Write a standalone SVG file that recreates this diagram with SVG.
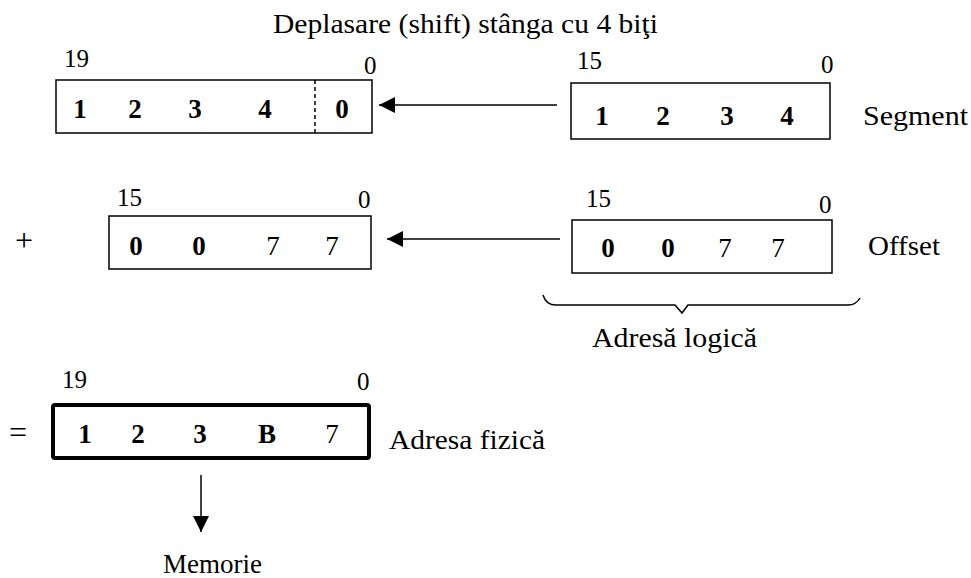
<svg xmlns="http://www.w3.org/2000/svg" width="971" height="578" viewBox="0 0 971 578">
  <style>
    text { font-family: "Liberation Serif", "Times New Roman", serif; fill: #000; }
    .lbl { font-size: 25px; }
    .word { font-size: 28px; }
    .sign { font-size: 32px; text-anchor: middle; }
    .dig { font-size: 27px; font-weight: bold; text-anchor: middle; }
    .thin { font-weight: normal; }
    .box { fill: #fff; stroke: #000; stroke-width: 1.5; }
    .heavy { fill: #fff; stroke: #000; stroke-width: 4; }
    .line { fill: none; stroke: #000; stroke-width: 1.5; }
  </style>
  <defs>
    <marker id="head" viewBox="0 0 16 16" refX="16" refY="8" markerWidth="16" markerHeight="16" markerUnits="userSpaceOnUse" orient="auto">
      <path d="M0,0 L16,8 L0,16 Z" fill="#000"/>
    </marker>
  </defs>

  <text class="word" x="273" y="33" textLength="385" lengthAdjust="spacingAndGlyphs">Deplasare (shift) stânga cu 4 biţi</text>

  <!-- shifted segment, 20 bits -->
  <g id="shifted">
    <rect class="box" x="56" y="80" width="316" height="53"/>
    <line x1="315" y1="80" x2="315" y2="133" stroke="#000" stroke-width="1.5" stroke-dasharray="4 3"/>
    <text class="lbl" x="64" y="67">19</text>
    <text class="lbl" x="364" y="74">0</text>
    <text class="dig" x="80" y="118">1</text>
    <text class="dig" x="135" y="118">2</text>
    <text class="dig" x="195" y="118">3</text>
    <text class="dig" x="265" y="118">4</text>
    <text class="dig" x="342" y="118">0</text>
  </g>

  <!-- segment register -->
  <g id="segment">
    <rect class="box" x="571" y="83" width="259" height="56"/>
    <text class="lbl" x="577" y="69">15</text>
    <text class="lbl" x="821" y="73">0</text>
    <text class="dig" x="602" y="125">1</text>
    <text class="dig" x="663" y="125">2</text>
    <text class="dig" x="727" y="125">3</text>
    <text class="dig" x="787" y="125">4</text>
    <text class="word" x="863" y="125" textLength="105" lengthAdjust="spacingAndGlyphs">Segment</text>
  </g>

  <!-- offset operand -->
  <g id="offset-copy">
    <text class="sign" x="24" y="251">+</text>
    <rect class="box" x="109" y="216" width="262" height="53"/>
    <text class="lbl" x="117" y="206">15</text>
    <text class="lbl" x="358" y="208">0</text>
    <text class="dig" x="136" y="255">0</text>
    <text class="dig" x="199" y="255">0</text>
    <text class="dig thin" x="273" y="255">7</text>
    <text class="dig thin" x="332" y="255">7</text>
  </g>

  <!-- offset register -->
  <g id="offset">
    <rect class="box" x="572" y="220" width="260" height="53"/>
    <text class="lbl" x="586" y="207">15</text>
    <text class="lbl" x="819" y="213">0</text>
    <text class="dig" x="608" y="257">0</text>
    <text class="dig" x="668" y="257">0</text>
    <text class="dig thin" x="725" y="257">7</text>
    <text class="dig thin" x="778" y="257">7</text>
    <text class="word" x="868" y="255" textLength="72" lengthAdjust="spacingAndGlyphs">Offset</text>
  </g>

  <!-- logical address brace -->
  <g id="logical">
    <path class="line" d="M543,295 Q546,305 556,305 L675,305 L682,313 L688,305 L848,305 Q856,305 860,298"/>
    <text class="word" x="592" y="347" textLength="165" lengthAdjust="spacingAndGlyphs">Adresă logică</text>
  </g>

  <!-- physical address, 20 bits -->
  <g id="physical">
    <text class="sign" x="18" y="443">=</text>
    <rect class="heavy" x="53" y="405" width="316" height="53" rx="2"/>
    <text class="lbl" x="62" y="388">19</text>
    <text class="lbl" x="357" y="390">0</text>
    <text class="dig" x="85" y="443">1</text>
    <text class="dig" x="138" y="443">2</text>
    <text class="dig" x="200" y="443">3</text>
    <text class="dig" x="267" y="443">B</text>
    <text class="dig thin" x="332" y="443">7</text>
    <text class="word" x="389" y="449" textLength="156" lengthAdjust="spacingAndGlyphs">Adresa fizică</text>
  </g>

  <g id="memory">
    <text class="word" x="163" y="573" textLength="99" lengthAdjust="spacingAndGlyphs">Memorie</text>
  </g>

  <g id="connectors">
    <line class="line" x1="557" y1="105" x2="379" y2="105" marker-end="url(#head)"/>
    <line class="line" x1="560" y1="239" x2="387" y2="239" marker-end="url(#head)"/>
    <line class="line" x1="201" y1="475" x2="201" y2="532" marker-end="url(#head)"/>
  </g>
</svg>
